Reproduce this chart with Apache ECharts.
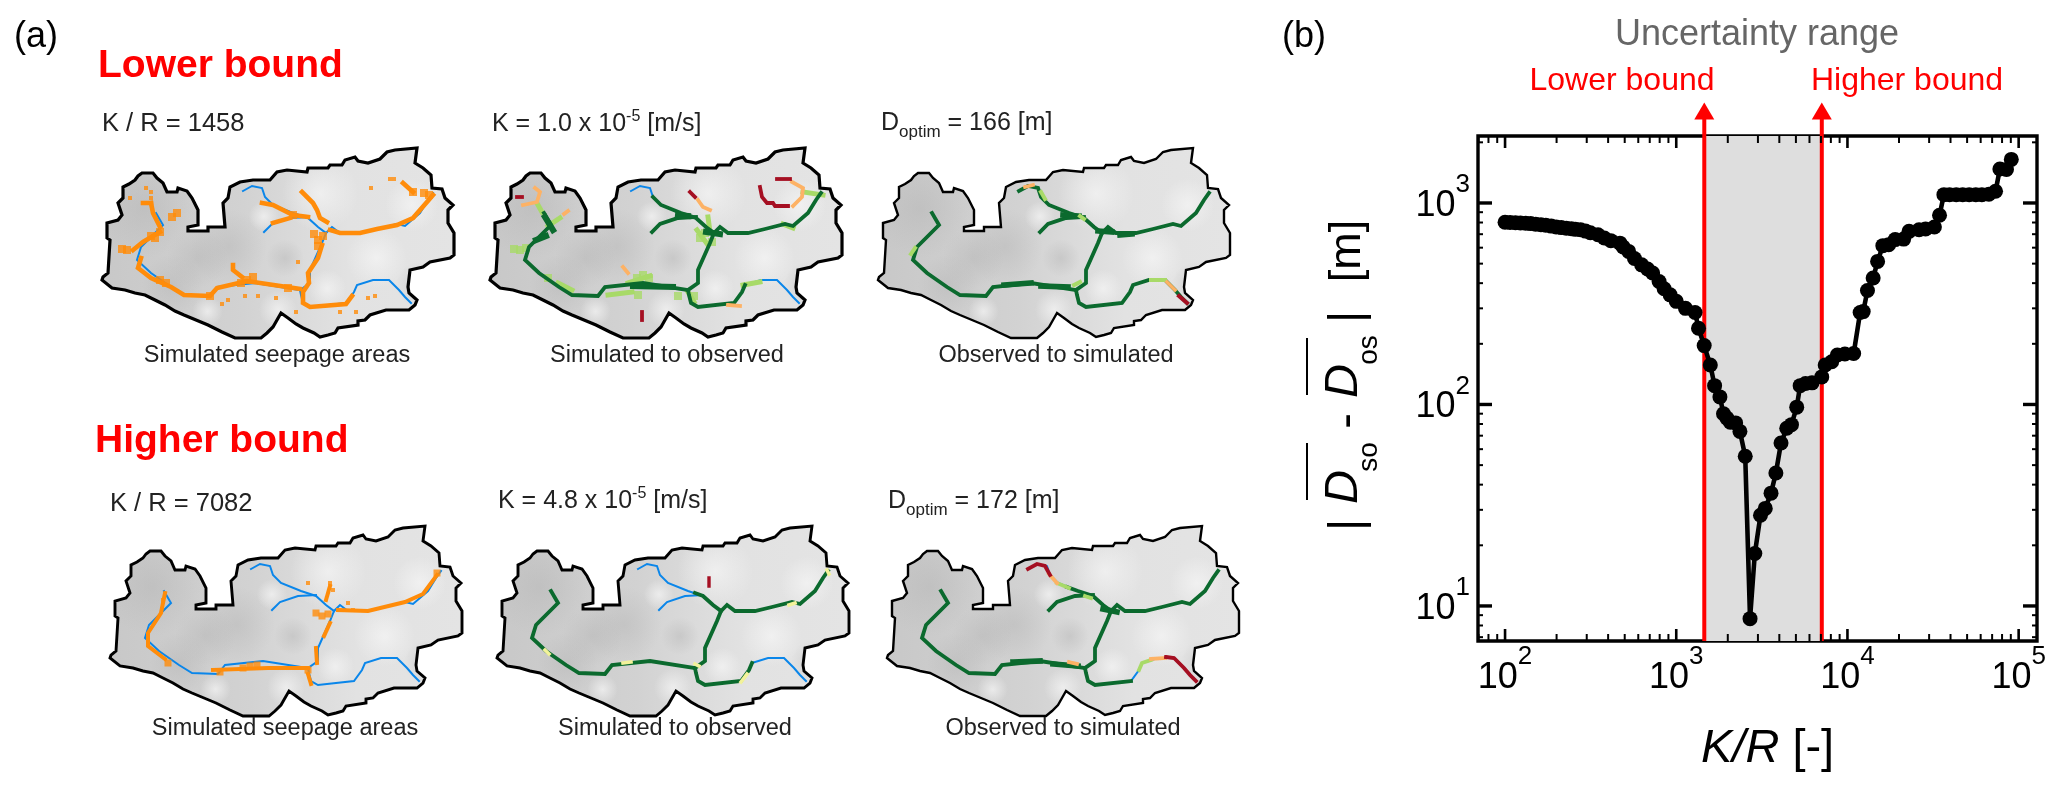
<!DOCTYPE html>
<html><head><meta charset="utf-8">
<script src="https://cdn.jsdelivr.net/npm/echarts@6/dist/echarts.min.js"></script>
<style>html,body{margin:0;padding:0;background:#fff}#c{width:2067px;height:793px}</style>
</head><body><div id="c"></div>
<script>
// ---------- panel (b) data ----------
const kr = [100,107,115,123,132,141,151,162,173,186,199,213,228,244,258,276,295,315,349,380,415,469,490,527,570,628,680,728,794,850,921,1000,1132,1288,1349,1456,1581,1675,1799,1888,1977,2070,2222,2355,2529,2698,2877,3105,3311,3578,3819,4093,4420,4710,5054,5294,5690,6208,7079,7413,8090,8730,9660,10870,11860,12360,13090,14130,15000,16100,17400,19000,21300,22900,26200,28600,32200,34500,36600,39500,43200,47100,51400,56200,61000,67000,73300,77700,84900,90600];
const dev = [802,800,798,796,793,790,785,780,775,768,760,755,750,745,740,736,725,712,695,670,650,632,605,575,530,493,470,449,408,375,350,325,300,286,239,196,157,124,109,90,85.5,81.6,81,73.5,55.3,8.65,18.2,28.2,30.5,36.3,45.7,64.4,76.2,79.4,97,124,127,128,137,157,163,176,178,179,286,289,368,424,513,614,621,658,662,723,736,743,760,869,1100,1100,1100,1100,1100,1100,1100,1105,1143,1475,1466,1645];
const bounds = [1458,7082];
const xMajor = [100,1000,10000,100000];
const xMinor = [70,80,90,200,300,400,500,600,700,800,900,2000,3000,4000,5000,6000,7000,8000,9000,20000,30000,40000,50000,60000,70000,80000,90000];
const yMajor = [10,100,1000];
const yMinor = [7,8,9,20,30,40,50,60,70,80,90,200,300,400,500,600,700,800,900,2000];

// ---------- panel (a) data: map units ----------
const outline = [[102,280],[103,277],[108,273],[110,240],[107,238],[107,223],[118,220],[122,215],[118,203],[123,198],[123,187],[129,184],[135,180],[138,176],[142,173],[153,173],[157,178],[163,183],[167,192],[177,192],[178,188],[187,191],[192,198],[198,210],[198,225],[188,227],[188,231],[208,231],[208,227],[225,227],[223,203],[228,198],[230,187],[240,182],[253,180],[270,180],[277,172],[287,170],[307,172],[308,168],[328,168],[330,165],[342,165],[345,160],[355,157],[358,161],[368,163],[380,159],[387,152],[395,150],[417,148],[415,163],[423,168],[431,175],[432,188],[442,189],[445,198],[453,205],[448,210],[448,223],[454,233],[454,255],[450,258],[430,262],[423,267],[410,270],[408,287],[409,293],[417,300],[415,305],[409,310],[386,310],[370,315],[365,320],[358,321],[358,325],[338,328],[335,333],[328,335],[320,337],[314,333],[303,328],[296,324],[288,318],[281,313],[277,320],[273,327],[267,333],[261,338],[235,338],[222,332],[208,325],[196,320],[184,315],[175,311],[165,305],[155,300],[145,295],[135,293],[125,290],[112,288],[102,280]];
const rivN = [[243,191],[252,186],[262,188],[265,197],[273,205],[293,213],[308,218],[318,227],[326,233]];
const rivBr = [[264,232],[272,224],[290,218],[308,217]];
const rivE = [[326,233],[332,227],[340,233],[360,233],[377,229],[397,224],[405,226],[420,213],[428,200],[433,193]];
const rivS = [[326,233],[322,243],[310,270],[310,283],[300,290]];
const rivW = [[156,213],[163,225],[141,247],[137,260],[151,273],[171,287],[184,295],[210,296],[217,287],[255,283],[300,290]];
const rivSE = [[300,290],[301,295],[303,303],[310,307],[346,303],[354,292],[357,285],[373,280],[389,280],[399,290],[405,297],[411,303]];
const network = [rivN,rivBr,rivE,rivS,rivW,rivSE];

const m1Orange = [[[151,203],[153,213],[160,227]],[[143,203],[151,203]],[[133,250],[143,242],[160,232]],[[141,258],[138,268],[151,278],[171,287],[184,295],[210,296],[217,288],[247,281],[300,289]],[[262,203],[273,205],[293,215],[308,217]],[[273,223],[290,218]],[[302,192],[313,203],[317,210],[320,218],[327,222]],[[322,245],[318,258],[308,273],[309,283],[303,292],[303,303],[310,307],[346,304],[352,296]],[[330,230],[340,233],[360,233],[377,229],[397,225],[413,218],[427,202],[433,195]],[[403,183],[413,192]],[[233,265],[233,270],[242,277]]];
const m1OrangeBlobs = [[160,232],[155,238],[151,236],[127,250],[122,249],[160,280],[166,283],[247,280],[241,283],[253,277],[293,215],[318,240],[314,234],[323,236],[318,246],[177,213],[172,217],[413,192],[429,195],[424,193],[210,296],[288,288]];
const m1OrangeDots = [[130,198],[146,188],[151,192],[151,198],[371,188],[390,179],[394,179],[233,265],[340,312],[356,312],[368,298],[375,296],[298,262],[258,296],[276,298],[296,312],[245,296],[222,304],[228,300]];

const m2Light = [[[150,205],[154,212]],[[172,218],[160,226]],[[415,192],[435,195]],[[320,217],[322,232]],[[309,230],[320,245]],[[240,283],[262,276]],[[220,295],[244,292]],[[170,283],[184,290]],[[355,285],[372,282]],[[300,292],[306,302]],[[395,224],[405,228]]];
const m2LightBlobs = [[132,250],[138,248],[126,249],[255,275],[261,278],[249,278],[317,233],[312,238],[324,242],[160,278],[250,295],[290,296],[306,296]];
const m2Peach = [[[135,205],[149,202],[152,192],[147,188]],[[404,182],[415,188],[414,197],[405,206]],[[310,200],[315,207],[322,210]],[[235,267],[240,273]],[[340,305],[352,306]],[[180,211],[176,214]]];
const m2Red = [[[389,179],[402,179]],[[372,187],[374,197],[379,203],[385,203],[387,206],[400,206]],[[302,192],[307,197]],[[254,312],[254,320]],[[129,197],[134,197]]];
const m2Wide = [[[157,217],[165,230]],[[148,240],[158,236]],[[290,215],[300,216]],[[318,232],[332,234]],[[245,286],[285,287]]];

const m3Light = [[[265,192],[269,199]],[[304,216],[308,219]],[[298,285],[304,282]],[[375,280],[389,280]],[[135,254],[139,248]]];
const m3Peach = [[[249,187],[257,185]],[[391,282],[399,290]]];
const m3Red = [[[403,296],[411,303]]];
const m3Wide = [[[287,215],[303,216]],[[322,231],[336,232]],[[344,235],[356,234]],[[228,285],[255,283]],[[265,286],[292,287]]];

const m4Orange = [[[157,215],[153,235],[140,255],[140,268],[157,281]],[[205,292],[260,290],[300,290]],[[308,270],[309,285]],[[330,232],[360,233],[397,224],[415,216],[429,197]],[[318,222],[322,208]],[[300,296],[303,306]],[[322,245],[316,258]]];
const m4OrangeBlobs = [[242,288],[235,290],[249,287],[308,235],[314,238],[320,236],[429,195],[160,285],[300,292],[212,294]];
const m4OrangeDots = [[322,205],[325,212],[340,225],[300,205],[345,232],[276,290],[155,222]];

const m5Blue = [rivN,rivBr,rivSE.slice(6)];
const m5Green = [[[300,215],[308,218],[318,227],[326,233]],rivE,rivS,rivW,rivSE.slice(0,7)];
const m5Yellow = [[[432,192],[434,196]],[[228,285],[236,284]],[[300,286],[304,288]],[[150,272],[154,276]],[[346,304],[352,296]],[[394,227],[400,225]]];
const m5Red = [[[314,200],[314,208]]];

const m6Green = [[[282,209],[293,213],[308,218],[318,227],[326,233]],rivBr,rivE,rivS,rivW,rivSE.slice(0,5)];
const m6Light = [[[272,205],[284,210]],[[354,292],[357,285],[366,282]],[[300,218],[306,220]]];
const m6Peach = [[[264,196],[272,205]],[[366,281],[380,280]],[[284,284],[292,286]]];
const m6Red = [[[243,191],[252,186],[260,188],[265,197]],[[381,279],[389,280],[399,290],[405,297],[411,303]]];
const m6Wide = [[[318,231],[332,234]],[[228,284],[255,283]],[[268,286],[293,288]]];

// relief: [fx, fy, fr] per tone
const darkRelief = [[.12,.32,.26],[.36,.52,.2],[.2,.72,.16],[.27,.58,.16],[.9,.72,.12],[.52,.58,.1]];
const lightRelief = [[.62,.24,.2],[.78,.58,.16],[.88,.3,.14],[.5,.85,.1],[.64,.74,.1],[.46,.36,.08],[.3,.86,.08]];

// ---------- drawing ----------
const FONT = '"Liberation Sans", Arial, sans-serif';
const C = {orange:'#ff8c0a',blue:'#0a86ea',green:'#0b6a2e',light:'#a8da68',peach:'#fdb265',red:'#a50f22',yellow:'#f2f29a',edge:'#000'};
const L=(data,color,width)=>({data,color,width});
const D=(data,color,size)=>({data,color,size});
const maps = [
 {dx:0,dy:0,edge:3.2,under:[L(network,C.blue,2)],over:[L(m1Orange,C.orange,4.6),D(m1OrangeBlobs,C.orange,8),D(m1OrangeDots,C.orange,4)]},
 {dx:388,dy:0,edge:3.2,under:[L(network,C.blue,2)],over:[L(m2Light,C.light,5),D(m2LightBlobs,C.light,8),L([rivW,rivS,rivE,rivBr,rivN.slice(3),rivSE.slice(0,7)],C.green,3.8),L(m2Wide,C.green,6),L(m2Peach,C.peach,3.8),L(m2Red,C.red,3.8)]},
 {dx:776,dy:0,edge:2.4,under:[L(network,C.blue,2)],over:[L(network,C.green,3.8),L(m3Wide,C.green,5.6),L(m3Light,C.light,4),L(m3Peach,C.peach,3.6),L(m3Red,C.red,4)]},
 {dx:8,dy:378,edge:2.9,under:[L(network,C.blue,2)],over:[L(m4Orange,C.orange,4),D(m4OrangeBlobs,C.orange,7),D(m4OrangeDots,C.orange,4)]},
 {dx:395,dy:378,edge:2.9,under:[L(m5Blue,C.blue,2)],over:[L(m5Green,C.green,3.8),L(m5Yellow,C.yellow,3.6),L(m5Red,C.red,3.4)]},
 {dx:785,dy:378,edge:2.4,under:[L(network,C.blue,2)],over:[L(m6Green,C.green,3.8),L(m6Wide,C.green,5.6),L(m6Light,C.light,3.8),L(m6Peach,C.peach,3.8),L(m6Red,C.red,3.8)]}
];
const grids=[],xAxes=[],yAxes=[],series=[];
const polygonSeries=(i,name,layers,mk,z)=>({type:'custom',name,xAxisIndex:i,yAxisIndex:i,silent:true,z,clip:false,data:layers,
  coordinateSystem:'cartesian2d',encode:{x:0,y:1},
  renderItem:(p,api)=>{return mk(outline.map(q=>api.coord(q)),p.dataIndex);}});
maps.forEach((m,i)=>{
  grids.push({left:90+m.dx,top:140+m.dy,width:380,height:210,show:false});
  xAxes.push({type:'value',gridIndex:i,min:90,max:470,show:false});
  yAxes.push({type:'value',gridIndex:i,min:140,max:350,inverse:true,show:false});
  series.push(polygonSeries(i,'relief-base',[[0,0]],(pts)=>({type:'polygon',shape:{points:pts},
    style:{fill:new echarts.graphic.LinearGradient(0,0,1,0,[{offset:0,color:'#c8c8c8'},{offset:.4,color:'#d2d2d2'},{offset:.7,color:'#e2e2e2'},{offset:1,color:'#e4e4e4'}])}}),1));
  series.push(polygonSeries(i,'relief-dark',darkRelief,(pts,k)=>{const b=darkRelief[k];return {type:'polygon',shape:{points:pts},
    style:{fill:new echarts.graphic.RadialGradient(b[0],b[1],b[2],[{offset:0,color:'rgba(178,178,178,.42)'},{offset:1,color:'rgba(178,178,178,0)'}])}};},2));
  series.push(polygonSeries(i,'relief-light',lightRelief,(pts,k)=>{const b=lightRelief[k];return {type:'polygon',shape:{points:pts},
    style:{fill:new echarts.graphic.RadialGradient(b[0],b[1],b[2],[{offset:0,color:'rgba(246,246,246,.7)'},{offset:1,color:'rgba(246,246,246,0)'}])}};},3));
  const addLayer=(ly,z)=>{
    if(ly.size!==undefined){
      series.push({type:'scatter',xAxisIndex:i,yAxisIndex:i,data:ly.data,symbol:'rect',symbolSize:ly.size,itemStyle:{color:ly.color},silent:true,z});
    } else {
      ly.data.forEach(line=>series.push({type:'line',xAxisIndex:i,yAxisIndex:i,data:line,showSymbol:false,symbol:'none',silent:true,z,
        lineStyle:{color:ly.color,width:ly.width,cap:'square',join:'miter'}}));
    }
  };
  m.under.forEach((ly,k)=>addLayer(ly,4+k*.1));
  m.over.forEach((ly,k)=>addLayer(ly,5+k*.1));
  series.push(polygonSeries(i,'boundary',[[0,0]],(pts)=>({type:'polygon',shape:{points:pts},style:{fill:'none',stroke:C.edge,lineWidth:m.edge,lineJoin:'miter'}}),8));
});
// panel (b)
const P = maps.length;
grids.push({left:1478,top:136,width:559,height:505,show:true,borderColor:'#000',borderWidth:3.4,backgroundColor:'transparent'});
const supRich={a:{fontSize:36,fontFamily:FONT,color:'#000',lineHeight:52,verticalAlign:'bottom'},
               b:{fontSize:26,fontFamily:FONT,color:'#000',lineHeight:26,verticalAlign:'top'}};
const powLabel=v=>{const e=Math.log10(v),r=Math.round(e);return Math.abs(e-r)<1e-6?`{a|10}{b|${r}}`:'';};
xAxes.push({type:'log',gridIndex:P,min:69.5,max:128000,axisLine:{show:false},axisTick:{show:false},splitLine:{show:false},minorTick:{show:false},
  axisLabel:{formatter:powLabel,rich:supRich,margin:3,hideOverlap:false,showMinLabel:true,showMaxLabel:true}});
yAxes.push({type:'log',gridIndex:P,min:6.7,max:2150,axisLine:{show:false},axisTick:{show:false},splitLine:{show:false},minorTick:{show:false},
  axisLabel:{formatter:powLabel,rich:supRich,margin:8,padding:[0,0,10,0],hideOverlap:false}});
const tickSeries=(vals,isX,len,w)=>({type:'custom',xAxisIndex:P,yAxisIndex:P,silent:true,z:6,clip:false,data:vals.map(v=>isX?[v,100]:[100,v]),encode:{x:0,y:1},
  renderItem:(p,api)=>{const c=api.coord([api.value(0),api.value(1)]);const g=p.coordSys;
    const st={stroke:'#000',lineWidth:w};
    return {type:'group',children:isX?[
      {type:'line',shape:{x1:c[0],y1:g.y,x2:c[0],y2:g.y+len},style:st},
      {type:'line',shape:{x1:c[0],y1:g.y+g.height,x2:c[0],y2:g.y+g.height-len},style:st}]:[
      {type:'line',shape:{x1:g.x,y1:c[1],x2:g.x+len,y2:c[1]},style:st},
      {type:'line',shape:{x1:g.x+g.width,y1:c[1],x2:g.x+g.width-len,y2:c[1]},style:st}]};}});
series.push(tickSeries(xMajor,true,12,2.6),tickSeries(xMinor,true,7,2),tickSeries(yMajor,false,14,3.4),tickSeries(yMinor,false,5,2));
const ARROW_AT=2862, Y_BOTTOM=6.7;
bounds.forEach(b=>{
  series.push({type:'line',xAxisIndex:P,yAxisIndex:P,clip:false,silent:true,z:3,data:[[b,Y_BOTTOM],[b,ARROW_AT]],
    showSymbol:true,symbol:(v,p)=>p.dataIndex===1?'triangle':'none',symbolSize:[20,17],itemStyle:{color:'#ff0000'},lineStyle:{color:'#ff0000',width:4}});
});
series.push({type:'line',name:'|Dso - Dos|',xAxisIndex:P,yAxisIndex:P,z:5,data:kr.map((k,i)=>[k,dev[i]]),symbol:'circle',symbolSize:15,showSymbol:true,showAllSymbol:true,
  itemStyle:{color:'#000'},lineStyle:{color:'#000',width:4.6},
  markArea:{silent:true,z:1,itemStyle:{color:'#dedede'},data:[[{xAxis:bounds[0]},{xAxis:bounds[1]}]]}});

// text
const T=[];
const plain=(text,x,base,fs,fill,o={})=>T.push({type:'text',x,y:base-.35*fs,z:20,silent:true,style:Object.assign({text,fontFamily:FONT,fontSize:fs,fill,align:o.align||'left',verticalAlign:'middle',fontWeight:o.bold?'bold':'normal',fontStyle:o.italic?'italic':'normal'})});
const rot=(text,cx,cy,fs,o={})=>T.push({type:'text',x:cx,y:cy,rotation:Math.PI/2,z:20,silent:true,style:{text,fontFamily:FONT,fontSize:fs,fill:'#000',align:'center',verticalAlign:'middle',fontStyle:o.italic?'italic':'normal'}});
const INK='#222';
const supText=(pre,sup,post,x,base)=>T.push({type:'text',x,y:base-24,z:20,silent:true,style:{text:`{n|${pre}}{s|${sup}}{n|${post}}`,align:'left',verticalAlign:'top',
  rich:{n:{fontFamily:FONT,fontSize:25,fill:INK,lineHeight:28,verticalAlign:'bottom'},s:{fontFamily:FONT,fontSize:16,fill:INK,lineHeight:16,verticalAlign:'top'}}}});
const subText=(pre,sub,post,x,base)=>T.push({type:'text',x,y:base-21,z:20,silent:true,style:{text:`{n|${pre}}{s|${sub}}{n|${post}}`,align:'left',verticalAlign:'top',
  rich:{n:{fontFamily:FONT,fontSize:25,fill:INK,lineHeight:25,verticalAlign:'top'},s:{fontFamily:FONT,fontSize:17,fill:INK,lineHeight:30,verticalAlign:'bottom'}}}});
plain('(a)',14,50,36,'#000');
plain('(b)',1282,50,36,'#000');
plain('Lower bound',98,80,39,'#ff0000',{bold:true});
plain('Higher bound',95,455,39,'#ff0000',{bold:true});
plain('K / R = 1458',102,133,25.5,INK);
plain('K / R = 7082',110,513,25.5,INK);
supText('K = 1.0 x 10','-5',' [m/s]',492,133);
supText('K = 4.8 x 10','-5',' [m/s]',498,510);
subText('D','optim',' = 166 [m]',881,132);
subText('D','optim',' = 172 [m]',888,510);
[['Simulated seepage areas',277,364],['Simulated to observed',667,364],['Observed to simulated',1056,364],
 ['Simulated seepage areas',285,737],['Simulated to observed',675,737],['Observed to simulated',1063,737]].forEach(c=>plain(c[0],c[1],c[2],23.5,INK,{align:'center'}));
plain('Uncertainty range',1757,48,36,'#666666',{align:'center'});
plain('Lower bound',1622,92,32,'#ff0000',{align:'center'});
plain('Higher bound',1907,92,32,'#ff0000',{align:'center'});
T.push({type:'text',x:1701,y:765-.35*47,z:20,silent:true,style:{text:'{i|K/R}{r| [-]}',align:'left',verticalAlign:'middle',rich:{i:{fontFamily:FONT,fontSize:47,fontStyle:'italic',fill:'#000'},r:{fontFamily:FONT,fontSize:47,fill:'#000'}}}});
rot('[m]',1348,251,45);
rot('|',1348,317,47);
rot('os',1369,350,28);
rot('D',1344,381,47,{italic:true});
rot('-',1348,421,47);
rot('so',1369,457,28);
rot('D',1344,487,47,{italic:true});
rot('|',1348,525,47);
[[338,395],[443,500]].forEach(s=>T.push({type:'line',z:20,silent:true,shape:{x1:1307,y1:s[0],x2:1307,y2:s[1]},style:{stroke:'#000',lineWidth:2}}));

const chart=echarts.init(document.getElementById('c'),null,{renderer:'canvas'});
chart.setOption({animation:false,backgroundColor:'#fff',grid:grids,xAxis:xAxes,yAxis:yAxes,series,graphic:{elements:T}});
</script></body></html>
